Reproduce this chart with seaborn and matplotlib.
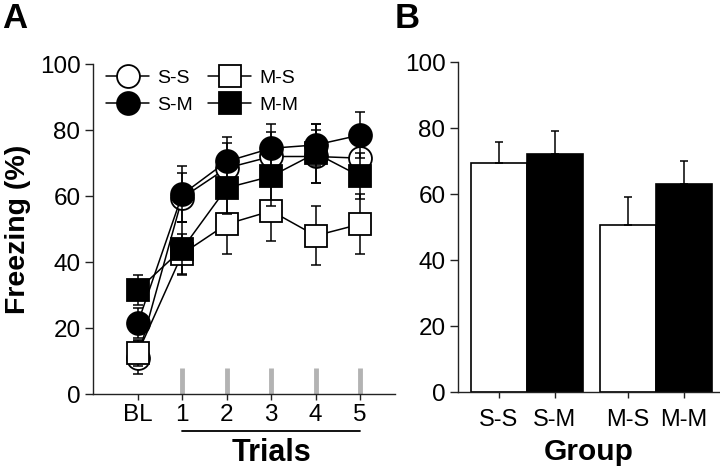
import matplotlib
matplotlib.use('Agg')
import matplotlib.pyplot as plt
import matplotlib.transforms as mtransforms
import numpy as np
import pandas as pd
import seaborn as sns

sns.set_style('ticks')
plt.rcParams['font.family'] = ['Liberation Sans', 'DejaVu Sans']
plt.rcParams['text.color'] = 'black'
plt.rcParams['axes.labelcolor'] = 'black'
plt.rcParams['xtick.color'] = 'black'
plt.rcParams['ytick.color'] = 'black'

#%% data
trial_labels = ['BL', '1', '2', '3', '4', '5']
trial_pos = [0, 1, 2, 3, 4, 5]
groups = ['S-S', 'S-M', 'M-S', 'M-M']
ss_mean = [11, 59.5, 68.5, 72, 72, 71.5]
ss_sem = [5, 7.5, 7.5, 7.5, 8, 7]
sm_mean = [21.5, 60.5, 70.5, 74.5, 75.5, 78.5]
sm_sem = [4.5, 8.5, 7.5, 7.5, 6.5, 7]
ms_mean = [12.5, 42.5, 51.5, 55.5, 48, 51.5]
ms_sem = [4, 6, 9, 9, 9, 9]
mm_mean = [31.5, 44, 62.5, 66, 73, 66]
mm_sem = [4.5, 8, 8, 9, 9, 7]

bar_pre = ['S', 'S', 'M', 'M']
bar_post = ['S', 'M', 'S', 'M']
bar_mean = [69.5, 72.2, 50.8, 63.2]
bar_sem = [6.3, 7.1, 8.3, 7.0]

means = dict(zip(groups, [ss_mean, sm_mean, ms_mean, mm_mean]))
sems = dict(zip(groups, [ss_sem, sm_sem, ms_sem, mm_sem]))
markers = {'S-S': 'o', 'S-M': 'o', 'M-S': 's', 'M-M': 's'}
faces = {'S-S': 'white', 'S-M': 'black', 'M-S': 'white', 'M-M': 'black'}

spine_col = '#222222'
#%% figure
fig = plt.figure(figsize=(7.2, 4.68), dpi=100)
axA = fig.add_axes([0.129, 0.158, 0.42, 0.705])
axB = fig.add_axes([0.636, 0.162, 0.364, 0.705])

#%% panel A
for i, g in enumerate(groups):
    axA.errorbar(trial_pos, means[g], yerr=sems[g], fmt='none', ecolor='black',
                 elinewidth=1.1, capsize=3.6, capthick=1.1, zorder=3 + 2 * i, clip_on=False)
    sns.lineplot(x=trial_pos, y=means[g], ax=axA, color='black', linewidth=1.1,
                 marker=markers[g], markersize=16.5, markerfacecolor=faces[g],
                 markeredgecolor='black', markeredgewidth=1.3, label=g,
                 zorder=4 + 2 * i, clip_on=False)

axA.vlines(trial_pos[1:], 0, 8, color='#b3b3b3', linewidth=3.5, zorder=1)
axA.set_xlim(-1.01, 5.79)
axA.set_ylim(0, 100)
axA.set_yticks([0, 20, 40, 60, 80, 100])
axA.set_xticks(trial_pos)
axA.set_xticklabels(trial_labels)
axA.set_xlabel('')
axA.set_ylabel('Freezing (%)', fontsize=20.5, fontweight='bold', labelpad=6)

# trials bar under 1..5
trans = mtransforms.blended_transform_factory(axA.transData, axA.transAxes)
axA.plot([trial_pos[1], trial_pos[-1]], [-0.112, -0.112], color='black', lw=1.3,
         transform=trans, clip_on=False)
axA.text(np.mean([trial_pos[1], trial_pos[-1]]), -0.178, 'Trials', transform=trans,
         ha='center', va='center', fontsize=22, fontweight='bold')

handles, labels = axA.get_legend_handles_labels()
axA.legend(handles, labels, ncol=2, frameon=False, loc='upper left',
           bbox_to_anchor=(0.045, 0.985), borderpad=0, borderaxespad=0,
           fontsize=14, handlelength=2.2, handletextpad=0.4, columnspacing=0.8,
           labelspacing=0.5)

#%% panel B
bar_df = pd.DataFrame({'pre': bar_pre, 'post': bar_post, 'mean': bar_mean, 'sem': bar_sem})
sns.barplot(data=bar_df, x='pre', y='mean', hue='post', order=['S', 'M'],
            hue_order=['S', 'M'], palette={'S': 'white', 'M': 'black'},
            edgecolor='black', linewidth=1.2, width=0.87, gap=0, errorbar=None,
            legend=False, ax=axB)
bars = sorted([p for p in axB.patches if p.get_height() > 0], key=lambda p: p.get_x())
centers = [p.get_x() + p.get_width() / 2 for p in bars]
tops = [p.get_height() for p in bars]
axB.errorbar(centers, tops, yerr=[np.zeros(len(bar_sem)), bar_sem], fmt='none',
             ecolor='black', elinewidth=1.1, capsize=2.6, capthick=1.1, zorder=1)
axB.set_xticks(centers)
axB.set_xticklabels([f'{a}-{b}' for a, b in zip(bar_pre, bar_post)])
axB.set_xlim(-0.535, 1.5)
axB.set_ylim(0, 100)
axB.set_yticks([0, 20, 40, 60, 80, 100])
axB.set_ylabel('')
axB.set_xlabel('Group', fontsize=21.5, fontweight='bold', labelpad=5)

for ax in [axA, axB]:
    sns.despine(ax=ax)
    for s in ['left', 'bottom']:
        ax.spines[s].set_color(spine_col)
        ax.spines[s].set_linewidth(1.0)
    ax.tick_params(axis='y', length=6, width=1, color=spine_col, labelsize=17.5, pad=3)
    ax.tick_params(axis='x', length=4, width=1, color=spine_col, labelsize=17.5, pad=3)
axB.tick_params(axis='x', labelsize=17, pad=8)

fig.text(0.003, 1 - 28 / 468, 'A', fontsize=25, fontweight='bold', va='baseline', ha='left')
fig.text(0.548, 1 - 28 / 468, 'B', fontsize=25, fontweight='bold', va='baseline', ha='left')

fig.savefig('out.png', dpi=100)
